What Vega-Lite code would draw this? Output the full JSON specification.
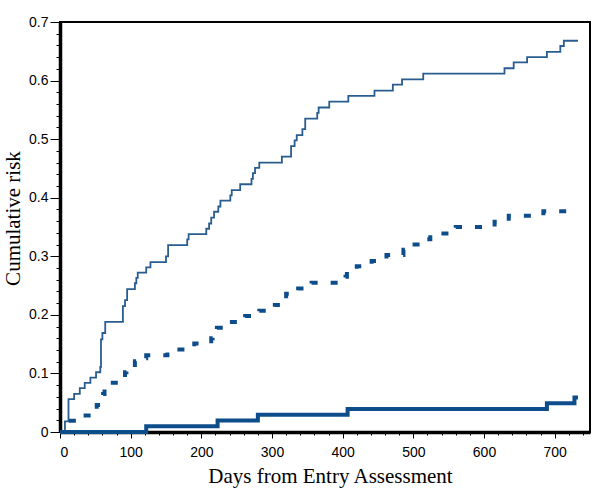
{
  "$schema": "https://vega.github.io/schema/vega-lite/v6.json",
  "width": 530,
  "height": 410,
  "autosize": {"type": "none"},
  "padding": {"left": 60, "top": 22, "right": 10, "bottom": 61},
  "background": "white",
  "datasets": {
    "top": [
      {"day": 0, "risk": 0}, {"day": 7, "risk": 0.018}, {"day": 12, "risk": 0.056}, {"day": 20, "risk": 0.065},
      {"day": 28, "risk": 0.075}, {"day": 35, "risk": 0.084}, {"day": 43, "risk": 0.093}, {"day": 51, "risk": 0.102},
      {"day": 57, "risk": 0.111}, {"day": 58, "risk": 0.158}, {"day": 60, "risk": 0.169}, {"day": 64, "risk": 0.188},
      {"day": 89, "risk": 0.215}, {"day": 92, "risk": 0.225}, {"day": 95, "risk": 0.244}, {"day": 106, "risk": 0.254},
      {"day": 108, "risk": 0.263}, {"day": 110, "risk": 0.272}, {"day": 122, "risk": 0.281}, {"day": 128, "risk": 0.29},
      {"day": 150, "risk": 0.3}, {"day": 153, "risk": 0.319}, {"day": 180, "risk": 0.329}, {"day": 182, "risk": 0.338},
      {"day": 207, "risk": 0.347}, {"day": 211, "risk": 0.356}, {"day": 214, "risk": 0.366}, {"day": 218, "risk": 0.376},
      {"day": 224, "risk": 0.385}, {"day": 227, "risk": 0.395}, {"day": 241, "risk": 0.404}, {"day": 243, "risk": 0.413},
      {"day": 255, "risk": 0.423}, {"day": 271, "risk": 0.432}, {"day": 273, "risk": 0.442}, {"day": 276, "risk": 0.451},
      {"day": 282, "risk": 0.46}, {"day": 314, "risk": 0.47}, {"day": 327, "risk": 0.488}, {"day": 332, "risk": 0.498},
      {"day": 335, "risk": 0.507}, {"day": 343, "risk": 0.517}, {"day": 347, "risk": 0.535}, {"day": 364, "risk": 0.545},
      {"day": 366, "risk": 0.554}, {"day": 381, "risk": 0.564}, {"day": 408, "risk": 0.574}, {"day": 445, "risk": 0.583},
      {"day": 471, "risk": 0.593}, {"day": 484, "risk": 0.602}, {"day": 514, "risk": 0.612}, {"day": 629, "risk": 0.621},
      {"day": 642, "risk": 0.631}, {"day": 661, "risk": 0.64}, {"day": 689, "risk": 0.649}, {"day": 708, "risk": 0.659},
      {"day": 713, "risk": 0.668}, {"day": 733, "risk": 0.668}
    ],
    "mid": [
      {"day": 0, "risk": 0}, {"day": 9, "risk": 0.019}, {"day": 30, "risk": 0.028}, {"day": 46, "risk": 0.037},
      {"day": 52, "risk": 0.046}, {"day": 58, "risk": 0.056}, {"day": 61, "risk": 0.065}, {"day": 63, "risk": 0.075},
      {"day": 71, "risk": 0.084}, {"day": 90, "risk": 0.093}, {"day": 92, "risk": 0.102}, {"day": 94, "risk": 0.111},
      {"day": 106, "risk": 0.121}, {"day": 110, "risk": 0.126}, {"day": 122, "risk": 0.131}, {"day": 152, "risk": 0.137},
      {"day": 158, "risk": 0.141}, {"day": 190, "risk": 0.151}, {"day": 214, "risk": 0.16}, {"day": 216, "risk": 0.17},
      {"day": 222, "risk": 0.178}, {"day": 240, "risk": 0.188}, {"day": 262, "risk": 0.198}, {"day": 282, "risk": 0.207},
      {"day": 304, "risk": 0.217}, {"day": 318, "risk": 0.226}, {"day": 320, "risk": 0.236}, {"day": 337, "risk": 0.245},
      {"day": 356, "risk": 0.255}, {"day": 404, "risk": 0.265}, {"day": 406, "risk": 0.275}, {"day": 420, "risk": 0.283},
      {"day": 441, "risk": 0.292}, {"day": 462, "risk": 0.302}, {"day": 486, "risk": 0.311}, {"day": 488, "risk": 0.32},
      {"day": 509, "risk": 0.329}, {"day": 524, "risk": 0.339}, {"day": 552, "risk": 0.345}, {"day": 560, "risk": 0.35},
      {"day": 615, "risk": 0.359}, {"day": 635, "risk": 0.369}, {"day": 684, "risk": 0.377}, {"day": 730, "risk": 0.377}
    ],
    "bottom": [
      {"day": 0, "risk": 0}, {"day": 122, "risk": 0.0098}, {"day": 223, "risk": 0.0196}, {"day": 280, "risk": 0.0294},
      {"day": 407, "risk": 0.0392}, {"day": 689, "risk": 0.049}, {"day": 728, "risk": 0.0588}, {"day": 733, "risk": 0.0588}
    ]
  },
  "encoding": {
    "x": {
      "field": "day", "type": "quantitative",
      "scale": {"domain": [0, 750], "nice": false, "zero": true},
      "axis": {
        "title": "Days from Entry Assessment",
        "values": [0,20,40,60,80,100,120,140,160,180,200,220,240,260,280,300,320,340,360,380,400,420,440,460,480,500,520,540,560,580,600,620,640,660,680,700,720,740],
        "labelExpr": "datum.value % 100 == 0 ? datum.label : ''",
        "tickSize": {"condition": {"test": "datum.value % 100 == 0", "value": 6}, "value": 3},
        "labelPadding": 7,
        "titleX": 270,
        "titleY": 50,
        "titleBaseline": "alphabetic",
        "titleAnchor": "middle",
        "titleAlign": "center"
      }
    },
    "y": {
      "field": "risk", "type": "quantitative",
      "scale": {"domain": [0, 0.7], "nice": false},
      "axis": {
        "title": "Cumulative risk",
        "values": [0,0.02,0.04,0.06,0.08,0.1,0.12,0.14,0.16,0.18,0.2,0.22,0.24,0.26,0.28,0.3,0.32,0.34,0.36,0.38,0.4,0.42,0.44,0.46,0.48,0.5,0.52,0.54,0.56,0.58,0.6,0.62,0.64,0.66,0.68,0.7],
        "labelExpr": "abs(datum.value*10 - round(datum.value*10)) < 0.001 ? (datum.value == 0 ? '0' : format(datum.value, '.1f')) : ''",
        "tickSize": {"condition": {"test": "abs(datum.value*10 - round(datum.value*10)) < 0.001", "value": 10}, "value": 4},
        "labelPadding": 2,
        "titleX": -47,
        "titleY": 196,
        "titleAngle": -90,
        "titleBaseline": "middle",
        "titleAlign": "center"
      }
    }
  },
  "layer": [
    {
      "data": {"name": "top"},
      "mark": {"type": "line", "interpolate": "step-after", "color": "#2a5d8f", "strokeWidth": 1.8}
    },
    {
      "data": {"name": "mid"},
      "mark": {"type": "line", "interpolate": "step-after", "color": "#0e4d8c", "strokeWidth": 4, "strokeDash": [7, 13], "strokeCap": "butt"}
    },
    {
      "data": {"name": "bottom"},
      "mark": {"type": "line", "interpolate": "step-after", "color": "#0e4d8c", "strokeWidth": 4}
    }
  ],
  "config": {
    "view": {"stroke": "black", "strokeWidth": 2},
    "axis": {
      "grid": false,
      "domainColor": "black",
      "domainWidth": 3.5,
      "tickColor": "black",
      "tickWidth": 1,
      "labelColor": "black",
      "labelFont": "Liberation Sans",
      "labelFontSize": 14,
      "titleFont": "Liberation Serif",
      "titleFontSize": 21,
      "titleFontWeight": "normal",
      "titleColor": "black"
    }
  }
}
